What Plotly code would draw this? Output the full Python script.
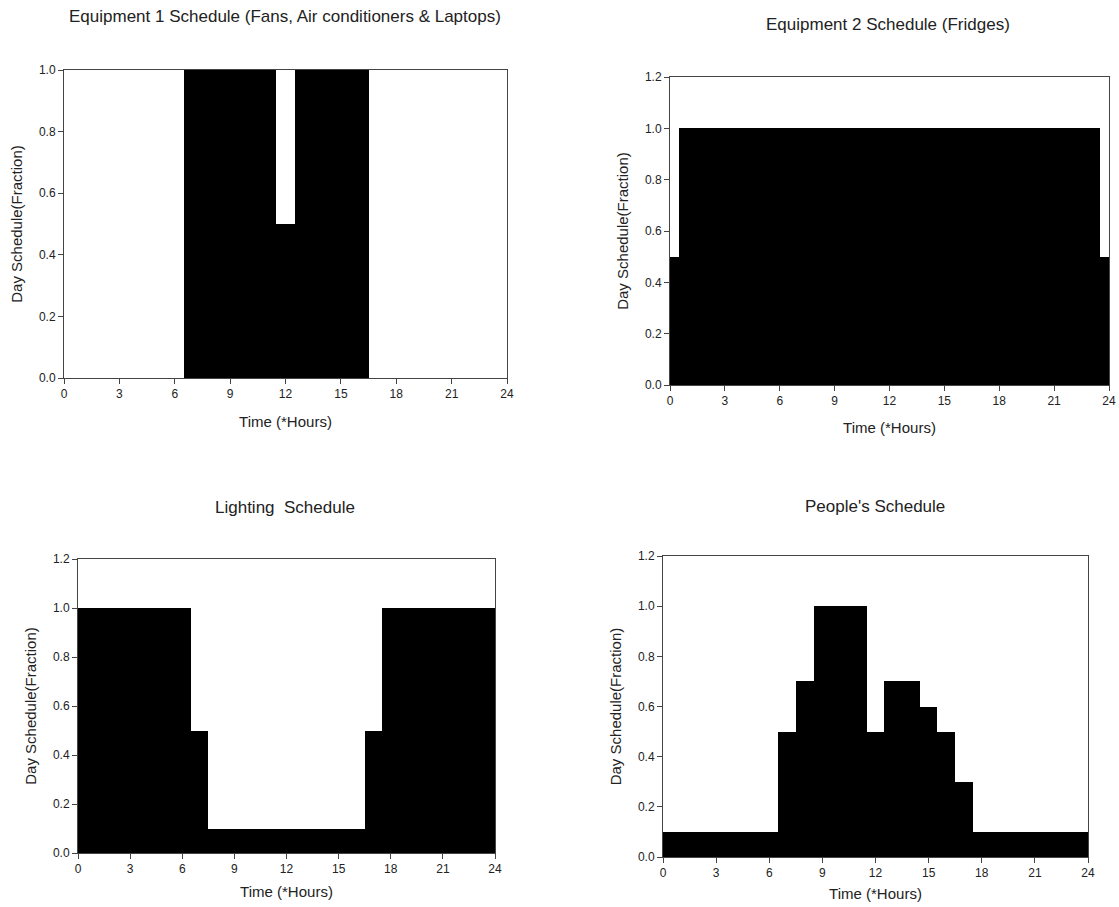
import plotly.graph_objects as go

# ---------------- data ----------------
hours = list(range(0, 25))

equip1 = [0, 0, 0, 0, 0, 0, 0, 1, 1, 1, 1, 1, 0.5, 1, 1, 1, 1, 0, 0, 0, 0, 0, 0, 0, 0]
equip2 = [0.5] + [1] * 23 + [0.5]
lighting = [1, 1, 1, 1, 1, 1, 1, 0.5, 0.1, 0.1, 0.1, 0.1, 0.1, 0.1, 0.1, 0.1, 0.1, 0.5, 1, 1, 1, 1, 1, 1, 1]
people = [0.1, 0.1, 0.1, 0.1, 0.1, 0.1, 0.1, 0.5, 0.7, 1.0, 1.0, 1.0, 0.5, 0.7, 0.7, 0.6, 0.5, 0.3, 0.1, 0.1, 0.1, 0.1, 0.1, 0.1, 0.1]

titles = [
    "Equipment 1 Schedule (Fans, Air conditioners & Laptops)",
    "Equipment 2 Schedule (Fridges)",
    "Lighting\u00a0 Schedule",
    "People's Schedule",
]
x_ticks = [0, 3, 6, 9, 12, 15, 18, 21, 24]
x_title = "Time (*Hours)"
y_title = "Day Schedule(Fraction)"
y_max = [1.0, 1.2, 1.2, 1.2]

# ---------------- layout (pixel boxes) ----------------
W, H = 1119, 907
# (left, right, top, bottom) in pixels
boxes = [
    (64, 507, 70, 378),
    (670, 1109, 77, 385),
    (78, 495, 559, 853),
    (663, 1088, 556, 857),
]
title_pos = [(285, 16), (888, 24), (285, 508), (875, 506)]
x_standoff = [16, 15, 11, 9]

series = [equip1, equip2, lighting, people]
font = "Liberation Sans, Arial, sans-serif"

fig = go.Figure()
layout = dict(
    template="none",
    width=W, height=H,
    margin=dict(l=0, r=0, t=0, b=0, autoexpand=False),
    paper_bgcolor="white", plot_bgcolor="white",
    showlegend=False,
    font=dict(family=font, color="#222"),
    annotations=[],
)

for i, (vals, box) in enumerate(zip(series, boxes)):
    n = "" if i == 0 else str(i + 1)
    fig.add_trace(go.Bar(
        x=hours, y=vals, width=1,
        marker=dict(color="black", line=dict(width=0)),
        xaxis="x" + n, yaxis="y" + n,
        hoverinfo="x+y",
    ))
    l, r, t, b = box
    layout["xaxis" + n] = dict(
        domain=[l / W, r / W], anchor="y" + n, automargin=False,
        range=[0, 24], tickvals=x_ticks,
        ticks="outside", ticklen=5, tickwidth=1, tickcolor="#444",
        showline=True, linecolor="#444", linewidth=1, mirror=True,
        showgrid=False, zeroline=False,
        tickfont=dict(size=12, family=font, color="#222"),
        title=dict(text=x_title, font=dict(size=15, family=font, color="#222"),
                   standoff=x_standoff[i]),
    )
    layout["yaxis" + n] = dict(
        domain=[1 - b / H, 1 - t / H], anchor="x" + n, automargin=False,
        range=[0, y_max[i]], dtick=0.2, tickformat=".1f",
        ticks="outside", ticklen=5, tickwidth=1, tickcolor="#444",
        showline=True, linecolor="#444", linewidth=1, mirror=True,
        showgrid=False, zeroline=False,
        tickfont=dict(size=12, family=font, color="#222"),
        title=dict(text=y_title, font=dict(size=15, family=font, color="#222"), standoff=12),
    )
    tx, ty = title_pos[i]
    layout["annotations"].append(dict(
        text=titles[i], xref="paper", yref="paper",
        x=tx / W, y=1 - ty / H, xanchor="center", yanchor="middle",
        showarrow=False, font=dict(size=17, family=font, color="#222"),
    ))

fig.update_layout(**layout, bargap=0)
fig.write_html(
    "out.html",
    config={"displayModeBar": False},
    post_script="document.body.style.margin='0';document.body.style.overflow='hidden';",
)
